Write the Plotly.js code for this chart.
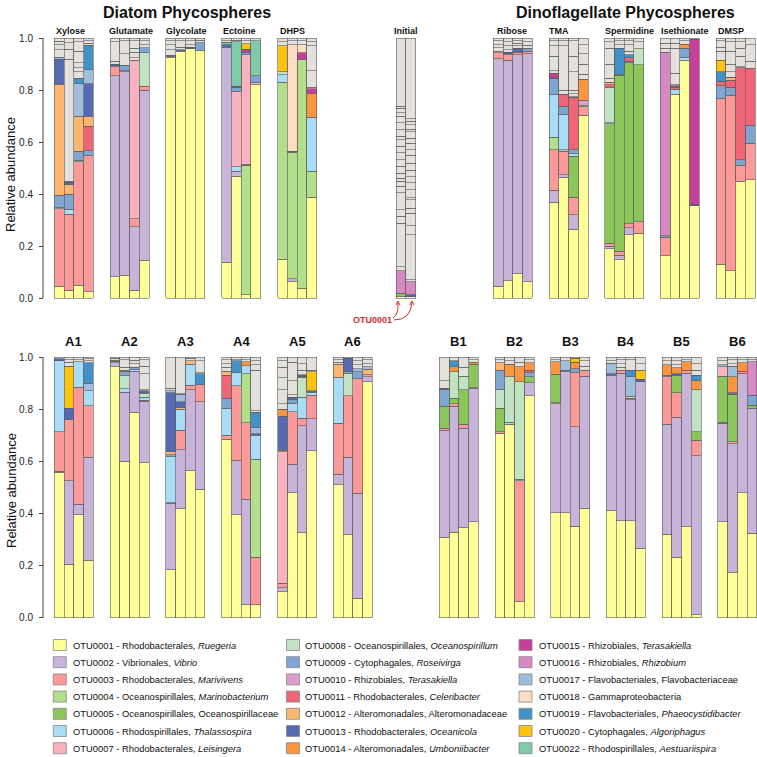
<!DOCTYPE html>
<html>
<head>
<meta charset="utf-8">
<script src="https://cdn.plot.ly/plotly-3.0.1.min.js"></script>
<style>html,body{margin:0;padding:0;background:#fff;}#chart{width:757px;height:757px;}</style>
</head>
<body>
<div id="chart"></div>
<script>
// ---------------- DATA ----------------
// OTU ids, legend labels and colours
const otuIds = [1,2,3,4,5,6,7,8,9,10,11,12,13,14,15,16,17,18,19,20,22];
const otuLabels = [
  'OTU0001 - Rhodobacterales, <i>Ruegeria</i>',
  'OTU0002 - Vibrionales, <i>Vibrio</i>',
  'OTU0003 - Rhodobacterales, <i>Marivivens</i>',
  'OTU0004 - Oceanospirillales, <i>Marinobacterium</i>',
  'OTU0005 - Oceanospirillales, Oceanospirillaceae',
  'OTU0006 - Rhodospirillales, <i>Thalassospira</i>',
  'OTU0007 - Rhodobacterales, <i>Leisingera</i>',
  'OTU0008 - Oceanospirillales, <i>Oceanospirillum</i>',
  'OTU0009 - Cytophagales, <i>Roseivirga</i>',
  'OTU0010 - Rhizobiales, <i>Terasakiella</i>',
  'OTU0011 - Rhodobacterales, <i>Celeribacter</i>',
  'OTU0012 - Alteromonadales, Alteromonadaceae',
  'OTU0013 - Rhodobacterales, <i>Oceanicola</i>',
  'OTU0014 - Alteromonadales, <i>Umboniibacter</i>',
  'OTU0015 - Rhizobiales, <i>Terasakiella</i>',
  'OTU0016 - Rhizobiales, <i>Rhizobium</i>',
  'OTU0017 - Flavobacteriales, Flavobacteriaceae',
  'OTU0018 - Gammaproteobacteria',
  'OTU0019 - Flavobacteriales, <i>Phaeocystidibacter</i>',
  'OTU0020 - Cytophagales, <i>Algoriphagus</i>',
  'OTU0022 - Rhodospirillales, <i>Aestuariispira</i>'
];
const otuColors = ['#ffff99','#c9b4d9','#fb9a99','#b2df8a','#8bc65b','#a9dcf7','#f9b3bf','#c2e3c3',
  '#7ea6d1','#dc9fcd','#ee6676','#fdb56f','#5669b3','#fb9540','#c63f98','#d68ac4','#a0bddb',
  '#fddcc4','#4391c6','#fdc30f','#7fcba9'];

// Each bar: list of [OTU id, relative abundance] from the bottom up.
// *Grey: positions of the boundaries between the rare (grey) OTUs above the coloured stack.
const xylose = [
  [[1,.045],[3,.298],[6,.007],[9,.045],[12,.427],[13,.096],[17,.008]],
  [[1,.03],[3,.292],[6,.019],[9,.059],[12,.035],[13,.01]],
  [[1,.05],[3,.475],[6,.005],[9,.035],[12,.135],[17,.125],[19,.02]],
  [[1,.025],[3,.523],[9,.019],[11,.093],[12,.04],[13,.125],[17,.052],[19,.095]]];
const xyloseGrey = [[0.955,0.975,0.988],[0.45,0.918,0.957,0.982],[0.87,0.885,0.905,0.95,0.985],[0.98,0.99]];
const glutamate = [
  [[1,.082],[2,.773],[3,.035],[9,.005],[13,.005]],
  [[1,.087],[2,.783],[3,.005],[9,.02]],
  [[1,.03],[2,.245],[3,.03],[7,.61]],
  [[1,.145],[2,.655],[3,.015],[8,.128],[9,.02]]];
const glutamateGrey = [[0.91,0.985],[0.94,0.99],[0.925,0.945,0.96,0.99],[0.975,0.99]];
const glycolate = [
  [[1,.924],[3,.005],[9,.005]],
  [[1,.95],[13,.005]],
  [[1,.958],[13,.006]],
  [[1,.952],[9,.03]]];
const glycolateGrey = [[0.955,0.975,0.99],[0.965,0.99],[0.975,0.99],[0.992]];
const ectoine = [
  [[1,.138],[2,.827],[13,.01],[22,.008]],
  [[1,.468],[2,.02],[6,.017],[7,.29],[9,.015],[13,.005],[22,.17]],
  [[1,.012],[4,.498],[6,.005],[7,.42],[9,.01],[15,.012],[20,.02]],
  [[1,.82],[7,.01],[9,.025],[22,.135]]];
const ectoineGrey = [[0.99],[0.992],[0.99],[]];
const dhps = [
  [[1,.149],[4,.681],[6,.028],[8,.012],[20,.1]],
  [[1,.063],[2,.012],[4,.485],[13,.005],[18,.41]],
  [[1,.037],[4,.88],[15,.027],[18,.03]],
  [[1,.388],[4,.10],[6,.207],[14,.09],[15,.02]]];
const dhpsGrey = [[0.985],[0.99],[0.99],[0.81,0.875,0.97,0.985]];
const initial = [
  [[1,.005],[5,.013],[16,.087]],
  [[1,.005],[13,.007],[16,.05]]];
const initialGrey = [
  [0.12,0.288,0.314,0.34,0.404,0.43,0.449,0.461,0.48,0.506,0.532,0.558,0.584,0.609,0.622,0.648,0.674,0.70,0.712,0.73,0.738],
  [0.07,0.243,0.278,0.326,0.346,0.378,0.385,0.416,0.444,0.467,0.492,0.518,0.55,0.57,0.596,0.615,0.64,0.65,0.667,0.68,0.69]];
const ribose = [
  [[1,.046],[2,.874],[3,.023]],
  [[1,.067],[2,.848],[3,.02],[9,.005],[13,.005]],
  [[1,.093],[2,.842],[3,.01],[9,.005],[13,.01]],
  [[1,.063],[2,.877],[3,.01],[9,.01]]];
const riboseGrey = [[0.95,0.962,0.975,0.99],[0.955,0.97,0.985],[0.97,0.98,0.99],[0.972,0.985]];
const tma = [
  [[1,.369],[2,.045],[3,.157],[4,.047],[6,.165],[9,.06],[13,.005],[15,.017]],
  [[1,.464],[2,.01],[3,.09],[4,.006],[6,.136],[9,.032],[11,.045]],
  [[1,.265],[2,.055],[3,.067],[5,.158],[6,.01],[9,.015],[11,.20],[13,.005]],
  [[1,.703],[3,.032],[5,.005],[10,.02],[14,.082]]];
const tmaGrey = [[0.875,0.93,0.97,0.99],[0.80,0.97,0.99],[0.785,0.80,0.87,0.93,0.99],[0.86,0.90,0.94,0.975]];
const spermidine = [
  [[1,.19],[2,.01],[3,.01],[5,.46],[6,.005],[8,.135],[11,.01],[12,.01]],
  [[1,.147],[2,.018],[3,.015],[5,.676],[6,.004],[19,.10]],
  [[1,.243],[2,.027],[3,.015],[5,.62],[9,.005],[11,.015],[19,.01]],
  [[1,.249],[3,.045],[5,.604],[8,.06]]];
const spermidineGrey = [[0.845,0.90,0.96,0.985],[0.975,0.99],[0.95,0.975,0.99],[0.985]];
const isethionate = [
  [[1,.162],[3,.072],[9,.006],[16,.706]],
  [[1,.783],[6,.02],[11,.005],[13,.004],[15,.004]],
  [[1,.914],[6,.012],[9,.035],[14,.015]],
  [[1,.355],[13,.005],[15,.635]]];
const isethionateGrey = [[0.96,0.98],[0.82,0.865,0.96,0.98],[0.99],[]];
const dmsp = [
  [[1,.13],[3,.637],[9,.05],[11,.017],[19,.036],[20,.045]],
  [[1,.105],[3,.675],[9,.03],[11,.027],[12,.01],[13,.003]],
  [[1,.449],[3,.061],[9,.022],[11,.354],[17,.004]],
  [[1,.455],[3,.141],[9,.069],[11,.218]]];
const dmspGrey = [[0.95,0.965,0.99],[0.87,0.90,0.95,0.985],[0.93,0.96,0.985],[0.91,0.975]];

const a1 = [
  [[1,.558],[2,.005],[3,.151],[6,.272],[13,.008]],
  [[1,.206],[2,.32],[3,.233],[13,.045],[20,.16]],
  [[1,.395],[2,.04],[3,.449],[6,.098]],
  [[1,.222],[2,.394],[3,.198],[6,.057],[17,.028],[19,.08]]];
const a1Grey = [[],[0.98,0.99],[0.99],[0.985,0.993]];
const a2 = [
  [[1,.963],[2,.015],[6,.005],[20,.005]],
  [[1,.60],[2,.265],[6,.013],[8,.05],[9,.018],[20,.004]],
  [[1,.788],[2,.158],[6,.005],[9,.009]],
  [[1,.595],[2,.236],[3,.004],[6,.01],[8,.015],[9,.005],[13,.005]]];
const a2Grey = [[0.995],[0.96,0.99],[0.975,0.988],[0.875,0.935,0.965,0.99]];
const a3 = [
  [[1,.184],[2,.255],[3,.003],[6,.176],[9,.007],[12,.012],[13,.226],[17,.007]],
  [[1,.418],[2,.226],[3,.076],[6,.08],[12,.005],[13,.023],[17,.029]],
  [[1,.565],[2,.309],[3,.017],[6,.082],[12,.012]],
  [[1,.493],[2,.336],[3,.064],[19,.042]]];
const a3Grey = [[0.88],[0.86],[0.995],[0.94,0.985]];
const a4 = [
  [[1,.685],[3,.016],[6,.102],[9,.039],[11,.089],[12,.015]],
  [[1,.395],[2,.21],[3,.284],[6,.051],[19,.045]],
  [[1,.05],[2,.405],[3,.293],[4,.187],[6,.031],[14,.016]],
  [[1,.05],[3,.182],[4,.376],[6,.093],[13,.005],[17,.025],[19,.057]]];
const a4Grey = [[0.96,0.975,0.99],[0.99],[0.99],[0.795,0.95,0.97,0.985]];
const a5 = [
  [[1,.10],[2,.015],[3,.018],[7,.504],[12,.005],[13,.132],[14,.026]],
  [[1,.48],[2,.109],[3,.201],[6,.032],[9,.016],[13,.007]],
  [[1,.327],[2,.409],[3,.029],[6,.08],[8,.077],[9,.005],[13,.005]],
  [[1,.641],[2,.123],[3,.09],[6,.011],[13,.005],[20,.074]]];
const a5Grey = [[0.82,0.875,0.92,0.96,0.985],[0.855,0.91,0.98],[0.95,0.975],[0.95]];
const a6 = [
  [[1,.51],[2,.04],[3,.196],[6,.176],[12,.051]],
  [[1,.318],[2,.298],[3,.235],[8,.086],[9,.008],[13,.05]],
  [[1,.075],[2,.403],[3,.438],[9,.028],[17,.011]],
  [[1,.905],[2,.02],[10,.008],[12,.02],[17,.01]]];
const a6Grey = [[0.98,0.99],[],[0.97,0.985],[0.975,0.99]];
const b1 = [
  [[1,.309],[2,.411],[3,.008],[5,.084],[9,.064],[13,.004]],
  [[1,.328],[2,.484],[3,.008],[5,.022],[8,.102],[14,.019],[19,.022]],
  [[1,.346],[2,.381],[3,.016],[5,.131],[8,.053]],
  [[1,.369],[2,.511],[3,.003],[5,.089],[14,.008]]];
const b1Grey = [[0.91],[],[0.96],[0.99]];
const b2 = [
  [[1,.708],[3,.006],[5,.089],[8,.073],[9,.074],[12,.028]],
  [[1,.743],[6,.007],[8,.175],[14,.047]],
  [[1,.063],[3,.463],[6,.006],[8,.373],[14,.058]],
  [[1,.851],[2,.051],[5,.023],[9,.015],[11,.01],[14,.028]]];
const b2Grey = [[0.99],[0.985],[0.98],[0.99]];
const b3 = [
  [[1,.404],[2,.416],[3,.005],[5,.109],[14,.048]],
  [[1,.404],[2,.54],[9,.006],[17,.036]],
  [[1,.352],[2,.381],[3,.207],[9,.015],[14,.025],[20,.015]],
  [[1,.42],[2,.507],[3,.023]]];
const b3Grey = [[0.99],[],[],[0.965,0.985]];
const b4 = [
  [[1,.411],[2,.52],[13,.004],[17,.041]],
  [[1,.373],[2,.564],[3,.013]],
  [[1,.373],[2,.463],[3,.006],[8,.008],[17,.075],[19,.025]],
  [[1,.267],[2,.638],[13,.01],[20,.035]]];
const b4Grey = [[0.985],[0.96,0.975,0.99],[0.99],[0.975]];
const b5 = [
  [[1,.32],[2,.423],[3,.182],[9,.005],[14,.04]],
  [[1,.232],[2,.537],[3,.094],[5,.068],[13,.005],[14,.023]],
  [[1,.35],[2,.587],[3,.013],[14,.032]],
  [[1,.012],[2,.609],[3,.061],[5,.032],[8,.16],[14,.035],[19,.022]]];
const b5Grey = [[0.985],[0.97,0.985],[0.99],[0.95,0.975]];
const b6 = [
  [[1,.369],[2,.377],[3,.004],[5,.177],[7,.036],[17,.007]],
  [[1,.174],[2,.493],[3,.008],[5,.183],[13,.005],[14,.062],[17,.039]],
  [[1,.48],[2,.457],[3,.008],[14,.033]],
  [[1,.324],[2,.479],[5,.012],[9,.039],[16,.128]]];
const b6Grey = [[0.985],[0.975,0.99],[0.99],[0.99]];

const topNames = ['Xylose','Glutamate','Glycolate','Ectoine','DHPS','Initial','Ribose','TMA','Spermidine','Isethionate','DMSP'];
const bottomNames = ['A1','A2','A3','A4','A5','A6','B1','B2','B3','B4','B5','B6'];
const yTickVals = [0,0.2,0.4,0.6,0.8,1.0];
const yTickText = ['0.0','0.2','0.4','0.6','0.8','1.0'];

// ---------------- LAYOUT HELPERS ----------------
const W = 757, H = 757;
const BW = 9.75;
const FONT = 'Liberation Sans, Arial, Helvetica, sans-serif';
const px = x => x / W, py = y => 1 - y / H;
const topGroups = [xylose,glutamate,glycolate,ectoine,dhps,initial,ribose,tma,spermidine,isethionate,dmsp];
const topGreys = [xyloseGrey,glutamateGrey,glycolateGrey,ectoineGrey,dhpsGrey,initialGrey,riboseGrey,tmaGrey,spermidineGrey,isethionateGrey,dmspGrey];
const topStarts = [0,1,2,3,4].map(k => 54.3 + 55.8*k).concat([396]).concat([0,1,2,3,4].map(k => 493.3 + 55.7*k));
const botGroups = [a1,a2,a3,a4,a5,a6,b1,b2,b3,b4,b5,b6];
const botGreys = [a1Grey,a2Grey,a3Grey,a4Grey,a5Grey,a6Grey,b1Grey,b2Grey,b3Grey,b4Grey,b5Grey,b6Grey];
const botStarts = [0,1,2,3,4,5].map(k => 54.3 + 55.8*k).concat([0,1,2,3,4,5].map(k => 439.3 + 55.7*k));

const LINE = {color:'#5c5c5c', width:0.6};
const traces = [];
function buildRow(groups, greys, starts, xa, ya) {
  const bars = [];
  groups.forEach((g, gi) => g.forEach((segs, bi) => {
    const top = segs.reduce((s, p) => s + p[1], 0);
    const bounds = [top].concat(greys[gi][bi].filter(v => v > top + 0.0005)).concat([1]);
    const greySegs = [];
    for (let k = 0; k < bounds.length - 1; k++) greySegs.push(bounds[k+1] - bounds[k]);
    bars.push({x: starts[gi] + (bi + 0.5) * BW, segs, greySegs});
  }));
  const xs = bars.map(b => b.x);
  otuIds.forEach((id, i) => {
    const y = bars.map(b => { const p = b.segs.find(s => s[0] === id); return p ? p[1] : null; });
    if (y.every(v => v === null)) return;
    traces.push({type:'bar', x:xs, y, width:BW, xaxis:xa, yaxis:ya, showlegend:false, hoverinfo:'skip',
      marker:{color:otuColors[i], line:LINE}});
  });
  const nLayers = Math.max(...bars.map(b => b.greySegs.length));
  for (let k = 0; k < nLayers; k++) {
    const y = bars.map(b => b.greySegs[k] > 0 ? b.greySegs[k] : null);
    traces.push({type:'bar', x:xs, y, width:BW, xaxis:xa, yaxis:ya, showlegend:false, hoverinfo:'skip',
      marker:{color:'#e4e1dc', line:LINE}});
  }
}
buildRow(topGroups, topGreys, topStarts, 'x', 'y');
buildRow(botGroups, botGreys, botStarts, 'x2', 'y2');

const annotations = [];
const shapes = [];
function txt(text, x, y, size, opts) {
  annotations.push(Object.assign({text, x:px(x), y:py(y), xref:'paper', yref:'paper', showarrow:false,
    xanchor:'center', yanchor:'middle', font:{family:FONT, size, color:'#111'}}, opts || {}));
}
// titles
txt('<b>Diatom Phycospheres</b>', 186.5, 12, 16);
txt('<b>Dinoflagellate Phycospheres</b>', 625.5, 12, 16);
// top group labels
const topLabelX = [54, 107, 163.5, 221, 278, 406, 495, 547, 603, 659, 716];
topNames.forEach((n, i) => txt('<b>' + n + '</b>', topLabelX[i], 30.5, 9, {xanchor: n === 'Initial' ? 'center' : 'left'}));
// bottom group labels
bottomNames.forEach((n, i) => txt('<b>' + n + '</b>', botStarts[i] + 2 * BW, 341, 13));
// y titles
txt('Relative abundance', 11, 175, 13, {textangle:-90});
txt('Relative abundance', 11, 491, 13, {textangle:-90});
// axis lines
shapes.push({type:'line', xref:'x', yref:'y', x0:43, x1:43, y0:0, y1:1, line:{color:'#444', width:1}});
shapes.push({type:'line', xref:'x2', yref:'y2', x0:43, x1:43, y0:0, y1:1, line:{color:'#444', width:1}});
// OTU0001 callout
txt('<b>OTU0001</b>', 372.5, 320, 9, {font:{family:FONT, size:9, color:'#d0312d'}});
const P = (x, y) => px(x).toFixed(5) + ',' + py(y).toFixed(5);
const red = {color:'#d0312d', width:1};
shapes.push({type:'path', xref:'paper', yref:'paper', path:'M' + P(393,318) + ' Q' + P(399,314) + ' ' + P(398,302), line:red});
shapes.push({type:'path', xref:'paper', yref:'paper', path:'M' + P(394,320) + ' Q' + P(411,320) + ' ' + P(412,302), line:red});
shapes.push({type:'path', xref:'paper', yref:'paper', path:'M' + P(396,305) + ' L' + P(398,301) + ' L' + P(400,305), line:red});
shapes.push({type:'path', xref:'paper', yref:'paper', path:'M' + P(410,305) + ' L' + P(412,301) + ' L' + P(414,305), line:red});
// legend
const colSwX = [53.3, 286.5, 519], colTxX = [70.7, 303, 537];
otuIds.forEach((id, i) => {
  const col = Math.floor(i / 7), row = i % 7;
  const yc = 645 + 17.2 * row;
  shapes.push({type:'rect', xref:'paper', yref:'paper', x0:px(colSwX[col]), x1:px(colSwX[col] + 13),
    y0:py(yc + 5.5), y1:py(yc - 5.5), fillcolor:otuColors[i], line:{color:'#888', width:0.8}});
  txt(otuLabels[i], colTxX[col], yc, 9.4, {xanchor:'left'});
});

const yBase = {range:[-0.02,1.02], anchor:'free', position:43/W, tickvals:yTickVals, ticktext:yTickText,
  ticks:'outside', ticklen:4, tickcolor:'#444', tickwidth:1, ticklabelstandoff:4,
  tickfont:{family:FONT, size:10, color:'#222'}, showgrid:false, zeroline:false, showline:false, fixedrange:true};
const layout = {
  width:W, height:H, margin:{l:0, r:0, t:0, b:0}, paper_bgcolor:'#fff', plot_bgcolor:'rgba(0,0,0,0)',
  barmode:'stack', showlegend:false, font:{family:FONT},
  xaxis:{domain:[0,1], range:[0,W], visible:false, fixedrange:true, anchor:'y'},
  xaxis2:{domain:[0,1], range:[0,W], visible:false, fixedrange:true, anchor:'y2'},
  yaxis:Object.assign({domain:[0.59947,0.95667]}, yBase),
  yaxis2:Object.assign({domain:[0.17675,0.53527]}, yBase),
  annotations, shapes
};
Plotly.newPlot('chart', traces, layout, {staticPlot:true, displayModeBar:false});
</script>
</body>
</html>
